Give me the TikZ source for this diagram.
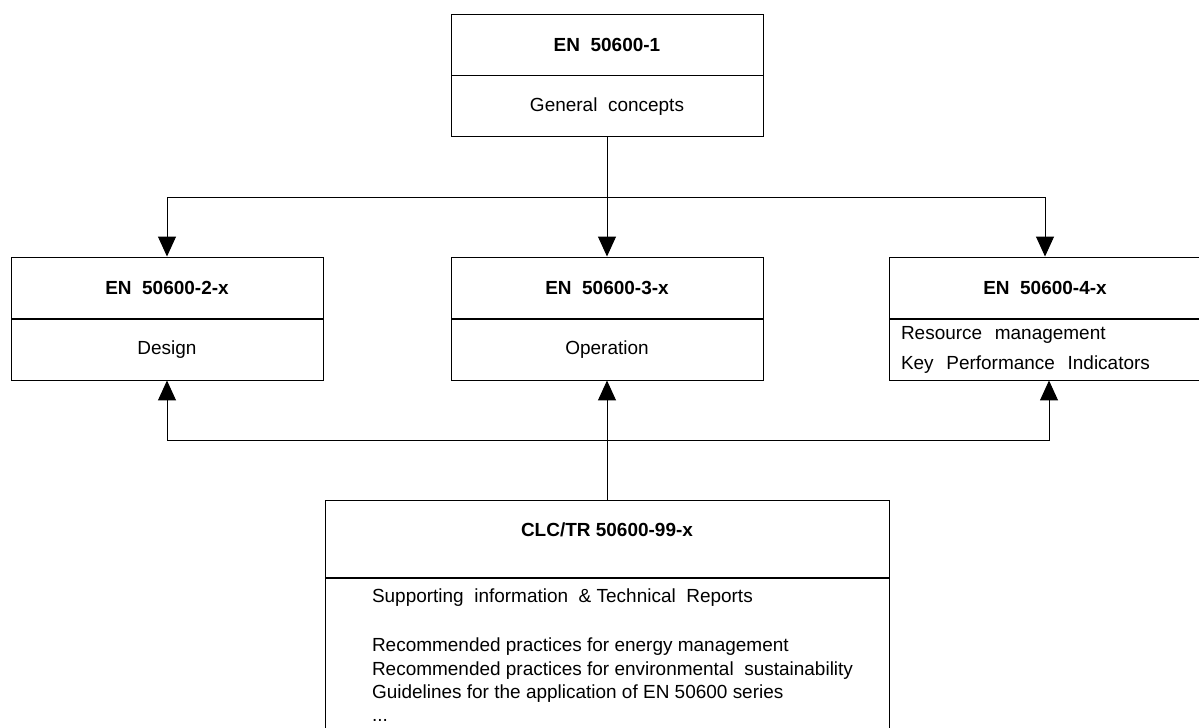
\documentclass[tikz,border=0pt]{standalone}
\usepackage{fontspec}
\setmainfont{Liberation Sans}
\usetikzlibrary{arrows.meta,calc}

\begin{document}
\begin{tikzpicture}[line width=0.7pt,
	hdr/.style={draw, minimum width=7.8cm, minimum height=1.525cm, inner sep=0pt, font=\fontsize{13.5}{16.7}\selectfont\bfseries},
	bdy/.style={draw, minimum width=7.8cm, minimum height=1.525cm, inner sep=0pt, anchor=north, font=\fontsize{13.5}{16.7}\selectfont},
	arr/.style={-{Triangle[length=0.5cm,width=0.45cm]}}]
	\useasboundingbox (0,0) rectangle (29.975,-18.175);
	\node[hdr] (en1) at (15.175,-1.1125) {EN\ \ 50600-1}; %parte general
	\node[bdy] (gen) at (en1.south) {General\ \ concepts};
	\node[hdr] (en2) at (4.175,-7.1875) {EN\ \ 50600-2-x}; %diseño
	\node[bdy] (design) at (en2.south) {Design};
	\node[hdr] (en3) at (15.175,-7.1875) {EN\ \ 50600-3-x}; %operación
	\node[bdy] (ops) at (en3.south) {Operation};
	\node[hdr] (en4) at (26.125,-7.1875) {EN\ \ 50600-4-x}; %indicadores
	\node[bdy, text width=7.2cm, inner xsep=0.3cm, align=left, font=\fontsize{13.5}{21.3}\selectfont] (kpi) at (en4.south) {Resource\ \ management\\Key\ \ Performance\ \ Indicators};
	\node[hdr, minimum width=14.1cm, minimum height=1.925cm, text depth=0.45cm] (tr) at (15.175,-13.4625) {CLC/TR 50600-99-x}; %informes
	\node[bdy, minimum width=14.1cm, minimum height=5cm] (info) at (tr.south) {};
	\node[anchor=north west, inner sep=0pt, align=left, font=\fontsize{13.5}{16.7}\selectfont] (list) at ([xshift=1.175cm,yshift=-0.275cm]info.north west) {Supporting\ \ information\ \ \& Technical\ \ Reports\\[18pt]Recommended practices for energy management\\Recommended practices for environmental\ \ sustainability\\Guidelines for the application of EN 50600 series\\...};
	\coordinate (upbus) at ($(gen.south)!0.5!(en3.north)$);
	\coordinate (lowbus) at ($(ops.south)!0.5!(tr.north)$);
	\draw[arr] (gen.south) -- (en3.north);
	\draw[arr] (upbus) -| (en2.north);
	\draw[arr] (upbus) -| (en4.north);
	\draw[arr] (tr.north) -- (ops.south);
	\draw[arr] (lowbus) -| (design.south);
	\draw[arr] (lowbus) -| ([xshift=0.1cm]kpi.south);
\end{tikzpicture}
\end{document}
